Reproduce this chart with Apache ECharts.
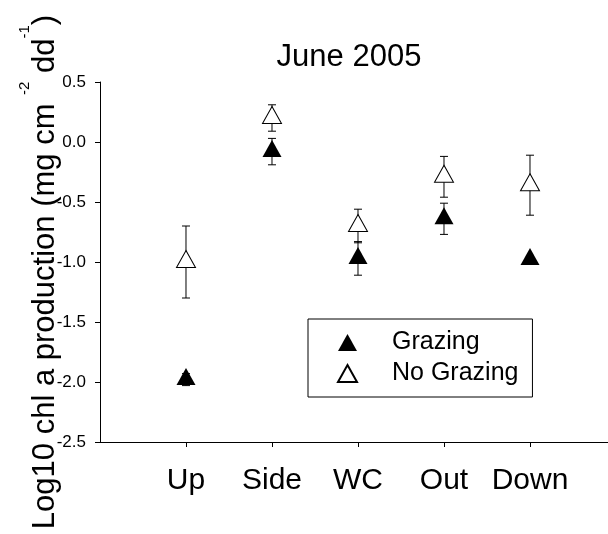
<!DOCTYPE html>
<html>
<head>
<meta charset="utf-8">
<script src="https://cdn.jsdelivr.net/npm/echarts@6/dist/echarts.min.js"></script>
<style>
  html, body { margin: 0; padding: 0; background: #fff; }
  #chart { width: 608px; height: 534px; }
</style>
</head>
<body>
<div id="chart"></div>
<script>
const categories = ['Up', 'Side', 'WC', 'Out', 'Down']
const grazingMean = [-1.98, -0.08, -0.97, -0.64, -0.98]
const grazingErr = [0.05, 0.11, 0.14, 0.13, 0.02]
const noGrazingMean = [-1.0, 0.2, -0.7, -0.29, -0.36]
const noGrazingErr = [0.3, 0.11, 0.14, 0.17, 0.25]
const yTicks = [-2.5, -2.0, -1.5, -1.0, -0.5, 0.0, 0.5]

const FONT = "'Liberation Sans', Arial, sans-serif"

const points = (means) => categories.map((c, i) => [i + 1, means[i]])
const bars = (means, errs) =>
  categories.map((c, i) => [i + 1, means[i] - errs[i], means[i] + errs[i]])

// vertical line with two caps, drawn under the triangles
function renderErrorBar(params, api) {
  const x = api.value(0)
  const lo = api.coord([x, api.value(1)])
  const hi = api.coord([x, api.value(2)])
  const cap = 4
  const style = { stroke: '#000', lineWidth: 1 }
  return {
    type: 'group',
    children: [
      { type: 'line', shape: { x1: lo[0], y1: lo[1], x2: hi[0], y2: hi[1] }, style },
      { type: 'line', shape: { x1: lo[0] - cap, y1: lo[1], x2: lo[0] + cap, y2: lo[1] }, style },
      { type: 'line', shape: { x1: hi[0] - cap, y1: hi[1], x2: hi[0] + cap, y2: hi[1] }, style },
    ],
  }
}

const chart = echarts.init(document.getElementById('chart'))

chart.setOption({
  animation: false,
  textStyle: { fontFamily: FONT, color: '#000' },
  title: {
    text: 'June 2005',
    left: 344,
    top: 37,
    textAlign: 'center',
    textStyle: { fontFamily: FONT, fontSize: 31, fontWeight: 'normal', color: '#000' },
  },
  graphic: [
    {
      type: 'text',
      x: 45,
      y: 272,
      rotation: Math.PI / 2,
      style: {
        text: '{m|Log10 chl a production (mg cm }{s|-2}{m| dd}{s|-1}{m|)}',
        align: 'center',
        verticalAlign: 'middle',
        textAlign: 'center',
        textVerticalAlign: 'middle',
        fill: '#000',
        rich: {
          m: { fontFamily: FONT, fontSize: 31, lineHeight: 56, fill: '#000' },
          s: { fontFamily: FONT, fontSize: 15, lineHeight: 26, verticalAlign: 'top', fill: '#000' },
        },
      },
    },
  ],
  legend: {
    data: ['Grazing', 'No Grazing'],
    orient: 'vertical',
    left: 308,
    top: 319,
    padding: [11, 14, 11, 29],
    itemGap: 6,
    itemWidth: 19,
    itemHeight: 17,
    borderColor: '#000',
    borderWidth: 1,
    selectedMode: false,
    textStyle: {
      fontFamily: FONT,
      fontSize: 25,
      lineHeight: 25,
      color: '#000',
      padding: [0, 0, 0, 30],
    },
  },
  grid: { left: 100, right: 0, top: 82, bottom: 92 },
  xAxis: {
    type: 'value',
    min: 0,
    max: 5.907,
    interval: 1,
    splitLine: { show: false },
    axisLine: { show: true, onZero: false, lineStyle: { color: '#000', width: 1 } },
    axisTick: {
      show: true,
      length: 5,
      customValues: [1, 2, 3, 4, 5],
      lineStyle: { color: '#000' },
    },
    axisLabel: {
      customValues: [1, 2, 3, 4, 5],
      formatter: (v) => categories[v - 1] || '',
      fontFamily: FONT,
      fontSize: 30,
      color: '#000',
      margin: 24,
    },
  },
  yAxis: {
    type: 'value',
    min: yTicks[0],
    max: yTicks[yTicks.length - 1],
    interval: 0.5,
    splitLine: { show: false },
    axisLine: { show: true, onZero: false, lineStyle: { color: '#000', width: 1 } },
    axisTick: { show: true, length: 5, lineStyle: { color: '#000' } },
    axisLabel: {
      formatter: (v) => v.toFixed(1),
      fontFamily: FONT,
      fontSize: 17,
      color: '#000',
      margin: 14,
    },
  },
  series: [
    {
      name: 'Grazing err',
      type: 'custom',
      z: 1,
      renderItem: renderErrorBar,
      encode: { x: 0, y: [1, 2] },
      data: bars(grazingMean, grazingErr),
    },
    {
      name: 'No Grazing err',
      type: 'custom',
      z: 1,
      renderItem: renderErrorBar,
      encode: { x: 0, y: [1, 2] },
      data: bars(noGrazingMean, noGrazingErr),
    },
    {
      name: 'Grazing',
      type: 'scatter',
      z: 3,
      symbol: 'triangle',
      symbolSize: [19, 17],
      symbolOffset: [0, -3],
      itemStyle: { color: '#000', opacity: 1 },
      data: points(grazingMean),
    },
    {
      name: 'No Grazing',
      type: 'scatter',
      z: 3,
      symbol: 'triangle',
      symbolSize: [19, 17],
      symbolOffset: [0, -3],
      itemStyle: { color: '#fff', borderColor: '#000', borderWidth: 1, opacity: 1 },
      data: points(noGrazingMean),
    },
  ],
})
</script>
</body>
</html>
